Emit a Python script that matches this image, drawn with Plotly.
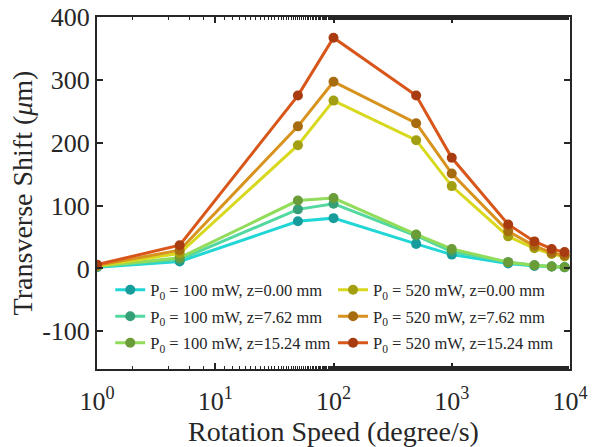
import plotly.graph_objects as go

speed = [1, 5, 50, 100, 500, 1000, 3000, 5000, 7000, 9000]

labels = [
    "P<sub>0</sub> = 100 mW, z=0.00 mm",
    "P<sub>0</sub> = 100 mW, z=7.62 mm",
    "P<sub>0</sub> = 100 mW, z=15.24 mm",
    "P<sub>0</sub> = 520 mW, z=0.00 mm",
    "P<sub>0</sub> = 520 mW, z=7.62 mm",
    "P<sub>0</sub> = 520 mW, z=15.24 mm",
]

p100_z000 = [2, 11, 75, 80, 39, 22, 8, 4, 3, 2]
p100_z762 = [3, 14, 94, 103, 52, 27, 10, 5, 3, 2]
p100_z1524 = [3, 17, 108, 112, 54, 31, 10, 5, 3, 2]
p520_z000 = [4, 24, 196, 267, 204, 131, 51, 32, 23, 19]
p520_z762 = [5, 29, 226, 297, 231, 151, 59, 36, 25, 21]
p520_z1524 = [6, 37, 275, 367, 275, 176, 70, 43, 31, 26]

y_tickvals = [-100, 0, 100, 200, 300, 400]
y_ticktext = ["-100", "0", "100", "200", "300", "400"]
x_tickvals = [1, 10, 100, 1000, 10000]
x_ticktext = ["10<sup>0</sup>", "10<sup>1</sup>", "10<sup>2</sup>", "10<sup>3</sup>", "10<sup>4</sup>"]

series = [p100_z000, p100_z762, p100_z1524, p520_z000, p520_z762, p520_z1524]
line_colors = ["#22d6d6", "#52d8a0", "#92dc5c", "#d8d81e", "#d8921e", "#d8561a"]
marker_colors = ["#179c9c", "#35a078", "#6a9c38", "#a2a012", "#a86c10", "#a83c10"]
legend_ids = ["legend", "legend", "legend", "legend2", "legend2", "legend2"]

fig = go.Figure()
for i, (name, ys, lc, mc, lg) in enumerate(zip(labels, series, line_colors, marker_colors, legend_ids)):
    fig.add_trace(go.Scatter(
        x=speed, y=ys, name=name, mode="lines+markers",
        line=dict(color=lc, width=3),
        marker=dict(color=mc, size=10, line=dict(color=mc, width=0)),
        legend=lg, legendgroup=f"g{i}",
    ))

axis_color = "#262626"
legend_common = dict(
    orientation="v", yanchor="top", xanchor="left",
    font=dict(family="Liberation Serif", size=16.5, color="#262626"),
    bgcolor="rgba(255,255,255,0)", tracegroupgap=2, itemwidth=30,
)
fig.update_layout(
    width=596, height=447,
    margin=dict(l=97, r=26, t=17, b=78, autoexpand=False),
    paper_bgcolor="white", plot_bgcolor="white",
    font=dict(family="Liberation Serif", color="#262626", size=26),
    showlegend=True,
    legend=dict(x=0.028, y=0.274, **legend_common),
    legend2=dict(x=0.499, y=0.274, **legend_common),
    xaxis=dict(
        type="log", range=[0, 4], automargin=False,
        tickvals=x_tickvals, ticktext=x_ticktext,
        ticks="inside", ticklen=6, tickcolor=axis_color, tickwidth=1.5,
        ticklabelstandoff=8,
        minor=dict(ticks="inside", ticklen=3, tickcolor=axis_color, tickwidth=1.2, showgrid=False),
        showline=True, linecolor=axis_color, linewidth=2, mirror="ticks",
        showgrid=False, zeroline=False,
        title=dict(text="Rotation Speed (degree/s)", font=dict(size=28), standoff=0),
        tickfont=dict(size=26),
    ),
    yaxis=dict(
        range=[-160, 400], automargin=False,
        tickvals=y_tickvals, ticktext=y_ticktext,
        ticks="inside", ticklen=6, tickcolor=axis_color, tickwidth=1.5,
        showline=True, linecolor=axis_color, linewidth=2, mirror="ticks",
        showgrid=False, zeroline=False,
        title=dict(text="Transverse Shift (<i>μ</i>m)", font=dict(size=28), standoff=1),
        tickfont=dict(size=26),
    ),
)

fig.write_html("out.html")
